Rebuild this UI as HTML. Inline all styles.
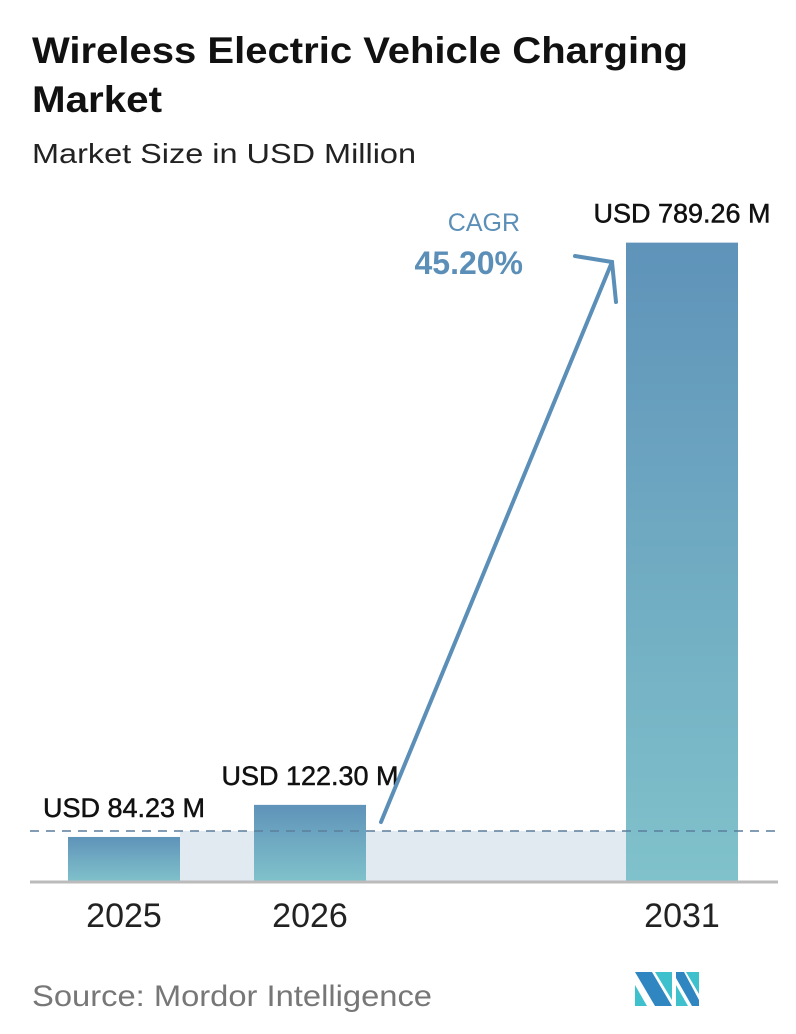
<!DOCTYPE html>
<html><head><meta charset="utf-8"><style>
body{margin:0;background:#fff;width:796px;height:1034px;overflow:hidden;font-family:"Liberation Sans",sans-serif;}
svg{display:block}
</style></head><body>
<svg width="796" height="1034">
<defs>
<linearGradient id="g" x1="0" y1="0" x2="0" y2="1"><stop offset="0" stop-color="#5f93b9"/><stop offset="1" stop-color="#80c2cb"/></linearGradient>
</defs>
<text x="32" y="63" font-size="37" font-weight="bold" fill="#111" textLength="656" lengthAdjust="spacingAndGlyphs">Wireless Electric Vehicle Charging</text>
<text x="32" y="112" font-size="37" font-weight="bold" fill="#111" textLength="130" lengthAdjust="spacingAndGlyphs">Market</text>
<text x="32" y="163" font-size="28" fill="#222" textLength="384" lengthAdjust="spacingAndGlyphs">Market Size in USD Million</text>
<rect x="180" y="831" width="446" height="51" fill="#e1e9f1"/>
<g id="bars"></g>
<line x1="30" y1="831" x2="780" y2="831" stroke="#5a7f9c" stroke-width="1.5" stroke-dasharray="9,7"/>
<line x1="30" y1="882" x2="778" y2="882" stroke="#bbb" stroke-width="3"/>
<g stroke="#5b8fb8" stroke-width="4" fill="none" stroke-linecap="round">
<line x1="381" y1="822" x2="612" y2="262"/>
<polyline points="575,256 612,262 616,302"/>
</g>
<text x="520" y="231" font-size="25" fill="#5b8fb8" text-anchor="end">CAGR</text>
<text x="523" y="274" font-size="32" font-weight="bold" fill="#5b8fb8" text-anchor="end">45.20%</text>
<text x="32" y="1006" font-size="30" fill="#777" textLength="400" lengthAdjust="spacingAndGlyphs">Source:  Mordor Intelligence</text>
<g>
<polygon points="635,972 652,972 672,1006 655,1006" fill="#2f86c0"/>
<polygon points="635,985 647,1006 635,1006" fill="#3fc1cd"/>
<polygon points="655,972 672,972 672,1000" fill="#3fc1cd"/>
<polygon points="676,972 684,972 699,1000 699,1006 692,1006 676,978" fill="#2f86c0"/>
<polygon points="686,972 699,972 699,994" fill="#3fc1cd"/>
<polygon points="676,985 688,1006 676,1006" fill="#3fc1cd"/>
</g>
</svg>
<script>
const categories=["2025","2026","2031"];
const values=[84.23,122.30,789.26];
const valueLabels=["USD 84.23 M","USD 122.30 M","USD 789.26 M"];
const xLeft=[68,254,626];
const barW=112, base=882, v0=30.8, k=0.843;
function yScale(v){return base-(v-v0)*k;}
const g=document.getElementById('bars');
const NS="http://www.w3.org/2000/svg";
categories.forEach((c,i)=>{
 const y=yScale(values[i]);
 const r=document.createElementNS(NS,'rect');
 r.setAttribute('x',xLeft[i]);r.setAttribute('y',y);r.setAttribute('width',barW);r.setAttribute('height',base-y);r.setAttribute('fill','url(#g)');
 
 
 g.appendChild(r);
 const t=document.createElementNS(NS,'text');
 t.setAttribute('x',xLeft[i]+barW/2);t.setAttribute('y',y-20);t.setAttribute('font-size','27');t.setAttribute('fill','#111');t.setAttribute('text-anchor','middle');
 t.setAttribute('stroke','#111');t.setAttribute('stroke-width','0.5');
 t.textContent=valueLabels[i];
 
 
 g.appendChild(t);
 const xl=document.createElementNS(NS,'text');
 xl.setAttribute('x',xLeft[i]+barW/2);xl.setAttribute('y',927);xl.setAttribute('font-size','34');xl.setAttribute('fill','#222');xl.setAttribute('text-anchor','middle');
 xl.textContent=c;
 
 
 g.appendChild(xl);
});
</script>
</body></html>
